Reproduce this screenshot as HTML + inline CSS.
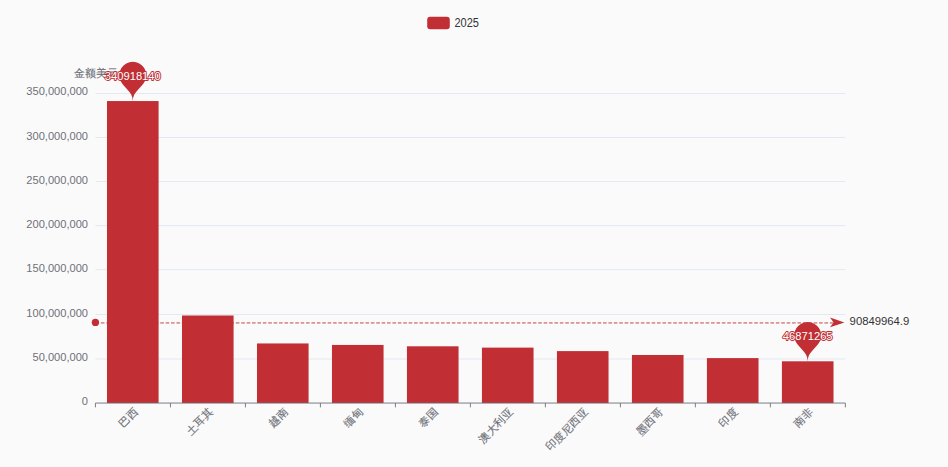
<!DOCTYPE html>
<html><head><meta charset="utf-8"><style>
html,body{margin:0;padding:0;background:#fafafa;width:948px;height:467px;overflow:hidden}
svg{display:block}
text{font-family:"Liberation Sans",sans-serif}
</style></head><body>
<svg width="948" height="467" viewBox="0 0 948 467">
<rect width="948" height="467" fill="#fafafa"/>

<line x1="95.45" y1="359.00" x2="845.35" y2="359.00" stroke="#E0E6F1" stroke-width="0.9"/>
<line x1="95.45" y1="314.50" x2="845.35" y2="314.50" stroke="#E0E6F1" stroke-width="0.9"/>
<line x1="95.45" y1="269.70" x2="845.35" y2="269.70" stroke="#E0E6F1" stroke-width="0.9"/>
<line x1="95.45" y1="225.60" x2="845.35" y2="225.60" stroke="#E0E6F1" stroke-width="0.9"/>
<line x1="95.45" y1="181.50" x2="845.35" y2="181.50" stroke="#E0E6F1" stroke-width="0.9"/>
<line x1="95.45" y1="137.50" x2="845.35" y2="137.50" stroke="#E0E6F1" stroke-width="0.9"/>
<line x1="95.45" y1="93.50" x2="845.35" y2="93.50" stroke="#E0E6F1" stroke-width="0.9"/>
<text x="88.0" y="405.20" text-anchor="end" font-size="11.1" fill="#6E7079">0</text>
<text x="88.0" y="360.95" text-anchor="end" font-size="11.1" fill="#6E7079">50,000,000</text>
<text x="88.0" y="316.70" text-anchor="end" font-size="11.1" fill="#6E7079">100,000,000</text>
<text x="88.0" y="272.45" text-anchor="end" font-size="11.1" fill="#6E7079">150,000,000</text>
<text x="88.0" y="228.20" text-anchor="end" font-size="11.1" fill="#6E7079">200,000,000</text>
<text x="88.0" y="183.95" text-anchor="end" font-size="11.1" fill="#6E7079">250,000,000</text>
<text x="88.0" y="139.70" text-anchor="end" font-size="11.1" fill="#6E7079">300,000,000</text>
<text x="88.0" y="95.45" text-anchor="end" font-size="11.1" fill="#6E7079">350,000,000</text>
<text x="96.15" y="77" text-anchor="middle" font-size="10.8" fill="#6E7079" stroke="#6E7079" stroke-width="0.15">金额美元</text>
<rect x="106.99" y="101.05" width="51.6" height="302.00" fill="#c12e34"/>
<rect x="181.98" y="315.50" width="51.6" height="87.55" fill="#c12e34"/>
<rect x="256.98" y="343.45" width="51.6" height="59.60" fill="#c12e34"/>
<rect x="331.96" y="344.94" width="51.6" height="58.11" fill="#c12e34"/>
<rect x="406.95" y="346.30" width="51.6" height="56.75" fill="#c12e34"/>
<rect x="481.94" y="347.62" width="51.6" height="55.43" fill="#c12e34"/>
<rect x="556.94" y="351.10" width="51.6" height="51.95" fill="#c12e34"/>
<rect x="631.93" y="354.98" width="51.6" height="48.07" fill="#c12e34"/>
<rect x="706.92" y="358.10" width="51.6" height="44.95" fill="#c12e34"/>
<rect x="781.91" y="361.30" width="51.6" height="41.75" fill="#c12e34"/>
<line x1="95.45" y1="403.05" x2="845.35" y2="403.05" stroke="#6E7079" stroke-width="0.9"/>
<line x1="95.45" y1="403.05" x2="95.45" y2="407.35" stroke="#6E7079" stroke-width="0.9"/>
<line x1="170.44" y1="403.05" x2="170.44" y2="407.35" stroke="#6E7079" stroke-width="0.9"/>
<line x1="245.43" y1="403.05" x2="245.43" y2="407.35" stroke="#6E7079" stroke-width="0.9"/>
<line x1="320.42" y1="403.05" x2="320.42" y2="407.35" stroke="#6E7079" stroke-width="0.9"/>
<line x1="395.41" y1="403.05" x2="395.41" y2="407.35" stroke="#6E7079" stroke-width="0.9"/>
<line x1="470.40" y1="403.05" x2="470.40" y2="407.35" stroke="#6E7079" stroke-width="0.9"/>
<line x1="545.39" y1="403.05" x2="545.39" y2="407.35" stroke="#6E7079" stroke-width="0.9"/>
<line x1="620.38" y1="403.05" x2="620.38" y2="407.35" stroke="#6E7079" stroke-width="0.9"/>
<line x1="695.37" y1="403.05" x2="695.37" y2="407.35" stroke="#6E7079" stroke-width="0.9"/>
<line x1="770.36" y1="403.05" x2="770.36" y2="407.35" stroke="#6E7079" stroke-width="0.9"/>
<line x1="845.35" y1="403.05" x2="845.35" y2="407.35" stroke="#6E7079" stroke-width="0.9"/>
<text transform="translate(136.14,409.75) rotate(-45)" x="0" y="0" text-anchor="end" dominant-baseline="central" font-size="10.8" fill="#6E7079" stroke="#6E7079" stroke-width="0.15">巴西</text>
<text transform="translate(211.13,409.75) rotate(-45)" x="0" y="0" text-anchor="end" dominant-baseline="central" font-size="10.8" fill="#6E7079" stroke="#6E7079" stroke-width="0.15">土耳其</text>
<text transform="translate(286.12,409.75) rotate(-45)" x="0" y="0" text-anchor="end" dominant-baseline="central" font-size="10.8" fill="#6E7079" stroke="#6E7079" stroke-width="0.15">越南</text>
<text transform="translate(361.11,409.75) rotate(-45)" x="0" y="0" text-anchor="end" dominant-baseline="central" font-size="10.8" fill="#6E7079" stroke="#6E7079" stroke-width="0.15">缅甸</text>
<text transform="translate(436.10,409.75) rotate(-45)" x="0" y="0" text-anchor="end" dominant-baseline="central" font-size="10.8" fill="#6E7079" stroke="#6E7079" stroke-width="0.15">泰国</text>
<text transform="translate(511.09,409.75) rotate(-45)" x="0" y="0" text-anchor="end" dominant-baseline="central" font-size="10.8" fill="#6E7079" stroke="#6E7079" stroke-width="0.15">澳大利亚</text>
<text transform="translate(586.09,409.75) rotate(-45)" x="0" y="0" text-anchor="end" dominant-baseline="central" font-size="10.8" fill="#6E7079" stroke="#6E7079" stroke-width="0.15">印度尼西亚</text>
<text transform="translate(661.08,409.75) rotate(-45)" x="0" y="0" text-anchor="end" dominant-baseline="central" font-size="10.8" fill="#6E7079" stroke="#6E7079" stroke-width="0.15">墨西哥</text>
<text transform="translate(736.07,409.75) rotate(-45)" x="0" y="0" text-anchor="end" dominant-baseline="central" font-size="10.8" fill="#6E7079" stroke="#6E7079" stroke-width="0.15">印度</text>
<text transform="translate(811.06,409.75) rotate(-45)" x="0" y="0" text-anchor="end" dominant-baseline="central" font-size="10.8" fill="#6E7079" stroke="#6E7079" stroke-width="0.15">南非</text>
<line x1="95.45" y1="322.95" x2="839.35" y2="322.95" stroke="#c12e34" stroke-width="0.9" stroke-dasharray="3.6 1.8"/>
<circle cx="95.42" cy="322.4" r="3.65" fill="#c12e34"/>
<path d="M844.40 322.40 L830.00 317.60 L833.60 322.40 L830.00 327.20 Z" fill="#c12e34"/>
<text x="849.60" y="325.00" font-size="11.3" fill="#333">90849964.9</text>
<path d="M120.598 81.121 A13.5 13.5 0 1 1 144.992 81.121 C141.521 88.440 132.795 91.600 132.795 101.050 C132.795 91.600 124.069 88.440 120.598 81.121 Z" fill="#c12e34"/>
<text x="132.79" y="79.97" text-anchor="middle" font-size="11.2" fill="#fff" stroke="#c12e34" stroke-width="1.8" paint-order="stroke" stroke-linejoin="round">340918140</text>
<path d="M795.508 341.371 A13.5 13.5 0 1 1 819.902 341.371 C816.431 348.690 807.705 351.850 807.705 361.300 C807.705 351.850 798.979 348.690 795.508 341.371 Z" fill="#c12e34"/>
<text x="807.71" y="340.22" text-anchor="middle" font-size="11.2" fill="#fff" stroke="#c12e34" stroke-width="1.8" paint-order="stroke" stroke-linejoin="round">46871265</text>
<rect x="427.2" y="16.8" width="22.6" height="12.5" rx="3" fill="#c12e34"/>
<text transform="translate(454.4,26.6) scale(1,1.09)" font-size="11" fill="#333">2025</text>
</svg>
</body></html>
